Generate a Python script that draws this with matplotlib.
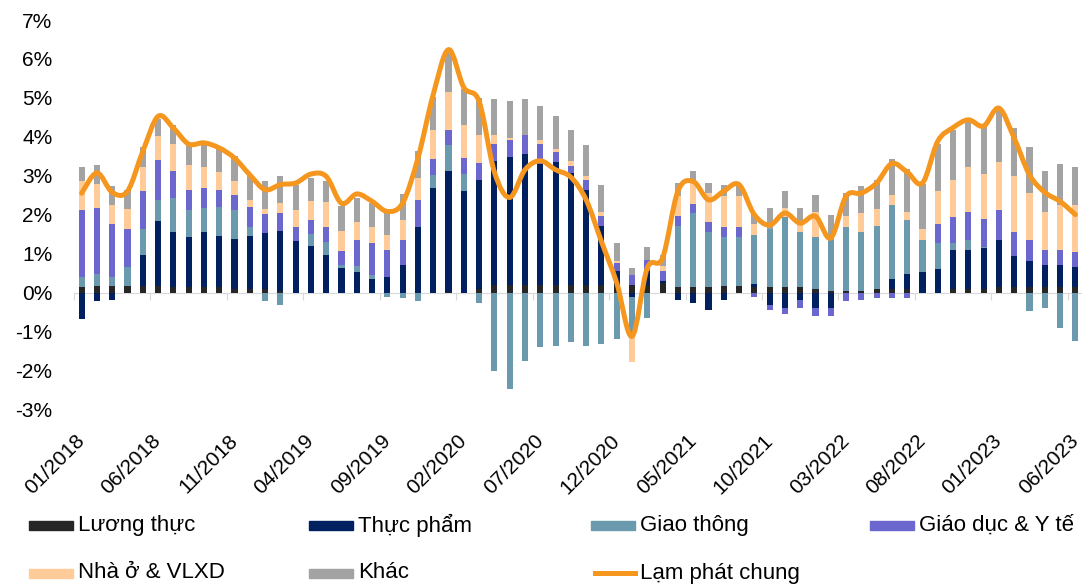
import numpy as np
import matplotlib
matplotlib.use("Agg")
import matplotlib.pyplot as plt
from matplotlib.path import Path
from matplotlib.patches import PathPatch, Rectangle
from matplotlib.lines import Line2D

plt.rcParams['font.family'] = ['Liberation Sans', 'DejaVu Sans']

# monthly contributions to CPI (yoy, %), 01/2018 - 06/2023
months = ["%02d/%d" % (m, y) for y in range(2018, 2024) for m in range(1, 13)][:66]

luong_thuc = [0.15, 0.19, 0.19, 0.19, 0.19, 0.19, 0.15, 0.15, 0.15, 0.15, 0.11, 0.11,
              0.09, 0.04, 0.00, 0.00, 0.00, 0.00, 0.00, 0.00, 0.00, 0.00, 0.00, 0.00,
              0.02, 0.00, 0.11, 0.21, 0.21, 0.21, 0.21, 0.21, 0.21, 0.21, 0.21, 0.21,
              0.20, 0.21, 0.26, 0.15, 0.15, 0.15, 0.19, 0.19, 0.15, 0.15, 0.15, 0.15,
              0.11, 0.06, 0.05, 0.06, 0.10, 0.11, 0.11, 0.00, 0.00, 0.11, 0.11, 0.11,
              0.15, 0.15, 0.15, 0.15, 0.15, 0.15]
thuc_pham = [-0.66, -0.21, -0.17, 0.00, 0.79, 1.65, 1.41, 1.28, 1.41, 1.32, 1.27, 1.36,
             1.46, 1.56, 1.34, 1.20, 0.98, 0.64, 0.54, 0.37, 0.40, 0.71, 1.68, 2.69,
             3.12, 2.61, 2.79, 3.18, 3.27, 3.36, 3.09, 3.14, 2.87, 2.44, 1.50, 0.36,
             -0.09, 0.36, 0.04, -0.17, -0.26, -0.43, -0.17, 0.00, 0.09, -0.32, -0.38, -0.17,
             -0.38, -0.38, 0.00, 0.00, 0.00, 0.26, 0.38, 0.54, 0.62, 1.00, 1.00, 1.04,
             1.22, 0.79, 0.66, 0.56, 0.56, 0.52]
giao_thong = [0.26, 0.30, 0.21, 0.48, 0.66, 0.55, 0.88, 0.69, 0.61, 0.74, 0.74, 0.21,
              -0.21, -0.30, 0.00, 0.30, 0.34, 0.07, 0.15, 0.09, -0.09, -0.13, -0.21, 0.34,
              0.65, 0.43, -0.26, -2.01, -2.45, -1.75, -1.39, -1.35, -1.26, -1.35, -1.31, -1.17,
              -0.98, -0.64, 0.00, 1.56, 1.89, 1.41, 1.24, 1.24, 1.25, 1.50, 1.79, 1.41,
              1.32, 1.31, 1.63, 1.50, 1.62, 1.88, 1.37, 0.83, 0.66, 0.17, 0.26, 0.04,
              0.00, 0.00, -0.47, -0.38, -0.91, -1.22]
giao_duc_y_te = [1.72, 1.68, 1.37, 0.97, 0.97, 1.01, 0.70, 0.53, 0.53, 0.44, 0.40, 0.52,
                 0.48, 0.44, 0.34, 0.36, 0.36, 0.36, 0.68, 0.83, 0.71, 0.66, 0.70, 0.41,
                 0.40, 0.41, 0.44, 0.44, 0.44, 0.49, 0.53, 0.26, 0.18, 0.26, 0.27, 0.21,
                 0.27, 0.28, 0.27, 0.27, 0.23, 0.26, 0.26, 0.26, -0.09, -0.11, -0.17, -0.21,
                 -0.21, -0.21, -0.21, -0.17, -0.13, -0.13, -0.13, 0.00, 0.49, 0.66, 0.71, 0.70,
                 0.75, 0.62, 0.54, 0.40, 0.40, 0.38]
nha_o = [0.74, 0.62, 0.48, 0.52, 0.62, 0.62, 0.67, 0.62, 0.53, 0.44, 0.34, 0.18,
         0.13, 0.26, 0.44, 0.49, 0.66, 0.53, 0.44, 0.40, 0.38, 0.49, 0.56, 0.74,
         0.97, 0.87, 0.71, 0.21, 0.05, 0.00, 0.09, 0.09, 0.13, 0.09, 0.09, 0.04,
         -0.71, 0.00, 0.13, 0.50, 0.60, 0.75, 0.79, 0.79, 0.29, 0.00, 0.24, 0.28,
         0.64, 0.00, 0.30, 0.48, 0.44, 0.27, 0.22, 0.27, 0.84, 0.97, 1.15, 1.15,
         1.23, 1.44, 1.22, 0.97, 1.14, 1.20]
khac = [0.36, 0.49, 0.49, 0.49, 0.52, 0.43, 0.50, 0.54, 0.58, 0.62, 0.64, 0.65,
        0.70, 0.70, 0.66, 0.61, 0.52, 0.62, 0.62, 0.62, 0.58, 0.67, 0.70, 0.85,
        1.04, 0.92, 0.96, 0.93, 0.96, 0.91, 0.88, 0.84, 0.79, 0.79, 0.71, 0.45,
        0.18, 0.34, 0.28, 0.34, 0.27, 0.26, 0.30, 0.26, 0.24, 0.54, 0.43, 0.34,
        0.45, 0.62, 0.58, 0.70, 0.74, 0.92, 1.10, 1.15, 1.20, 1.28, 1.18, 1.22,
        1.37, 1.23, 1.18, 1.06, 1.06, 0.97]
lam_phat = [2.56, 3.08, 2.58, 2.61, 3.63, 4.53, 4.23, 3.82, 3.85, 3.72, 3.46, 3.03,
            2.65, 2.78, 2.82, 3.05, 2.99, 2.30, 2.54, 2.35, 2.09, 2.31, 3.46, 5.09,
            6.24, 5.27, 4.91, 3.10, 2.45, 3.16, 3.39, 3.16, 2.97, 2.39, 1.32, 0.26,
            -1.11, 0.64, 0.90, 2.61, 2.86, 2.39, 2.61, 2.78, 2.01, 1.74, 2.05, 1.79,
            1.97, 1.41, 2.48, 2.56, 2.82, 3.32, 3.10, 2.82, 3.89, 4.24, 4.44, 4.28,
            4.74, 3.97, 3.03, 2.58, 2.35, 2.01]

series = [("Lương thực", luong_thuc, "#262626"),
          ("Thực phẩm", thuc_pham, "#002060"),
          ("Giao thông", giao_thong, "#6B99AD"),
          ("Giáo dục & Y tế", giao_duc_y_te, "#6B67CF"),
          ("Nhà ở & VLXD", nha_o, "#FFCC99"),
          ("Khác", khac, "#A3A3A3")]
line_color = "#F5961E"

W, H = 1082, 586
fig = plt.figure(figsize=(W / 100, H / 100), dpi=100)
top_px, bot_px, left_px, right_px = 20, 410, 74, 1083
ax = fig.add_axes([left_px / W, 1 - bot_px / H, (right_px - left_px) / W, (bot_px - top_px) / H])

x = np.arange(len(months))
pos = np.zeros(len(x))
neg = np.zeros(len(x))
for name, vals, col in series:
    v = np.array(vals)
    p = np.where(v > 0, v, 0)
    n = np.where(v < 0, v, 0)
    ax.bar(x, p, 0.4, bottom=pos, color=col, zorder=2)
    ax.bar(x, n, 0.4, bottom=neg, color=col, zorder=2)
    pos += p
    neg += n

# smoothed line (bezier through the points, like excel)
pts = np.column_stack([x, lam_phat]).astype(float)
verts = [tuple(pts[0])]
codes = [Path.MOVETO]
for i in range(len(pts) - 1):
    p0 = pts[max(i - 1, 0)]
    p1 = pts[i]
    p2 = pts[i + 1]
    p3 = pts[min(i + 2, len(pts) - 1)]
    c1 = p1 + (p2 - p0) / 6.0
    c2 = p2 - (p3 - p1) / 6.0
    verts += [tuple(c1), tuple(c2), tuple(p2)]
    codes += [Path.CURVE4] * 3
ax.add_patch(PathPatch(Path(verts, codes), facecolor="none", edgecolor=line_color,
                       lw=3.6, zorder=3, capstyle="round", joinstyle="round"))

ax.set_xlim(-0.5, len(x) - 0.5)
ax.set_ylim(-3, 7)
ax.set_yticks(range(-3, 8))
ax.set_yticklabels(["%d%%" % t for t in range(-3, 8)], fontsize=15)
ax.tick_params(axis="y", length=0, pad=15.5)

for s in ["top", "right", "left"]:
    ax.spines[s].set_visible(False)
ax.spines["bottom"].set_position(("data", 0))
ax.spines["bottom"].set_color("#D9D9D9")
ax.spines["bottom"].set_zorder(1)
ax.set_xticks(np.arange(-0.5, len(x), 5))
ax.tick_params(axis="x", length=5, color="#D9D9D9", labelbottom=False)

for i in range(0, len(x), 5):
    ax.text(i + 0.0, -3.72, months[i], rotation=45, ha="right", va="center",
            rotation_mode="anchor", fontsize=15, clip_on=False)

# legend, excel style fixed columns
col_px = [29, 309, 591, 870]
row_px = [525, 573]
entries = [(s[0], s[2], "patch") for s in series] + [("Lạm phát chung", line_color, "line")]
for k, (name, col, kind) in enumerate(entries):
    cx = col_px[k % 4]
    cy = row_px[k // 4]
    if kind == "patch":
        fig.patches.append(Rectangle((cx / W, 1 - (cy + 4.5) / H), 44 / W, 9 / H,
                                     transform=fig.transFigure, color=col))
    else:
        fig.lines.append(Line2D([(cx + 4) / W, (cx + 44) / W], [1 - cy / H, 1 - cy / H],
                                transform=fig.transFigure, color=col, lw=3.6))
    fig.text((cx + 49) / W, 1 - cy / H, name, fontsize=16, va="center", ha="left")

plt.savefig("out.png", dpi=100)
